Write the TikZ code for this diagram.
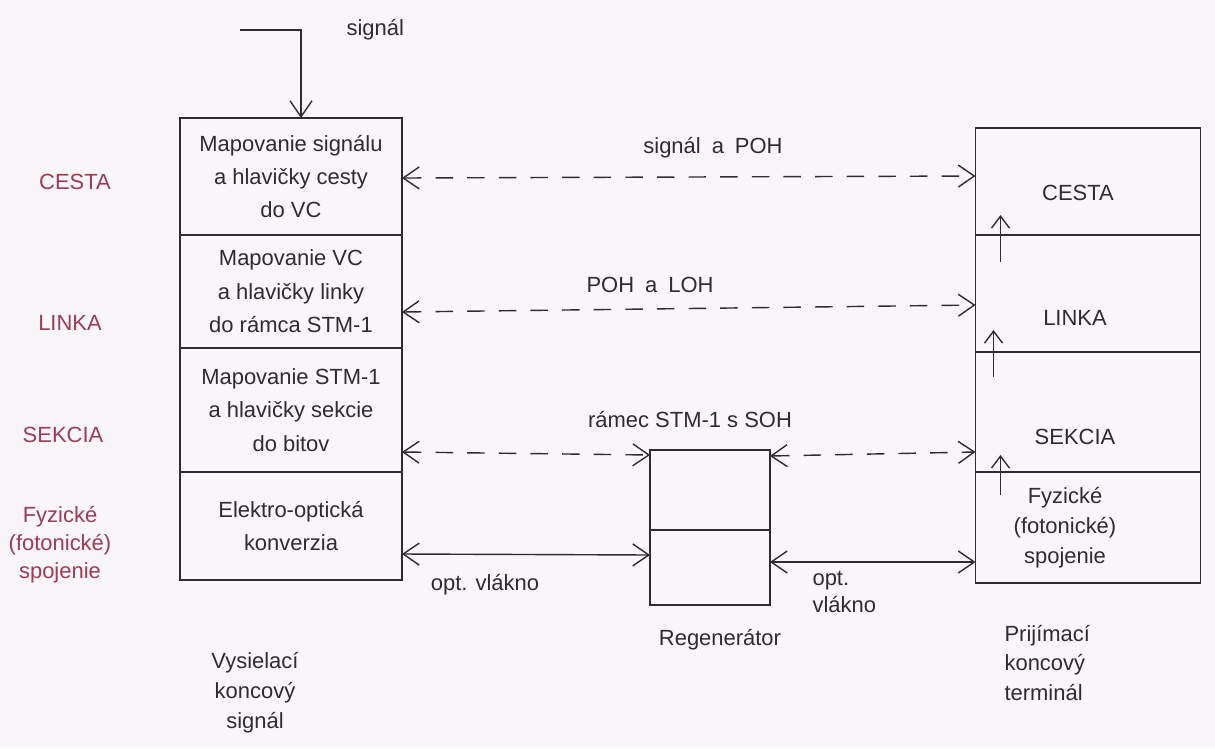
\documentclass[tikz,border=0pt]{standalone}
\usepackage{fontspec}
\setmainfont{Liberation Sans}
\usetikzlibrary{positioning,arrows.meta}
\definecolor{skink}{HTML}{2E2C30}
\definecolor{skred}{HTML}{A03A55}
\definecolor{skpaper}{HTML}{F8F6F8}
\tikzset{
  layer/.style={draw=skink,line width=0.8pt,outer sep=0pt,inner sep=0pt,align=center,
    minimum width=4.44cm,text=skink,font=\fontsize{12.5}{19}\selectfont},
  lbl/.style={text=skink,align=center,font=\fontsize{12.5}{17}\selectfont},
  redlbl/.style={text=skred,align=center,font=\fontsize{12.5}{16}\selectfont},
  dasharrow/.style={<->,draw=skink,dash pattern=on 10pt off 8pt},
  fibre/.style={<->,draw=skink},
  uparrow/.style={-{Straight Barb[length=2.4mm,width=3.6mm]},draw=skink}
}

\begin{document}
\begin{tikzpicture}[x=0.02cm,y=-0.02cm,line width=0.8pt,
    >={Straight Barb[length=3.2mm,width=4.4mm]}]
  \useasboundingbox[fill=skpaper] (0,0) rectangle (1215,748);
  % vysielaci terminal
  \node[layer,minimum height=2.34cm] (vc) at (291,176.5) {Mapovanie signálu\\a hlavičky cesty\\do VC};
  \node[layer,minimum height=2.26cm,below=0pt of vc] (stm) {Mapovanie VC\\a hlavičky linky\\do rámca STM-1};
  \node[layer,minimum height=2.48cm,below=0pt of stm] (bity) {Mapovanie STM-1\\a hlavičky sekcie\\do bitov};
  \node[layer,minimum height=2.16cm,below=0pt of bity] (eo) {Elektro-optická\\konverzia};
  \node[lbl] (vyslbl) at (255,693) {Vysielací\\koncový\\signál};
  % vstup signalu
  \coordinate (sigin) at (240,30);
  \draw[->,skink] (sigin) -| ([xshift=0.2cm]vc.north);
  \node[lbl,anchor=west] (siglbl) at (340,30) {signál};
  % vrstvy vlavo
  \node[redlbl] (lcesta) at (75,182) {CESTA};
  \node[redlbl] (llinka) at (70,323) {LINKA};
  \node[redlbl] (lsekcia) at (63,435) {SEKCIA};
  \node[redlbl] (lfyz) at (60,545) {Fyzické\\(fotonické)\\spojenie};
  % regenerator
  \node[layer,minimum width=2.4cm,minimum height=1.6cm] (rgtop) at (710,490) {};
  \node[layer,minimum width=2.4cm,minimum height=1.5cm,below=0pt of rgtop] (rgbot) {};
  \node[lbl] (rglbl) at (720,640) {Regenerátor};
  % prijimaci terminal
  \node[layer,minimum width=4.5cm,minimum height=2.14cm] (rc) at (1088,181.5) {};
  \node[layer,minimum width=4.5cm,minimum height=2.34cm,below=0pt of rc] (rl) {};
  \node[layer,minimum width=4.5cm,minimum height=2.4cm,below=0pt of rl] (rs) {};
  \node[layer,minimum width=4.5cm,minimum height=2.22cm,below=0pt of rs] (rf) {};
  \node[lbl] (rcesta) at (1078,193) {CESTA};
  \node[lbl] (rlinka) at (1075,318) {LINKA};
  \node[lbl] (rsekcia) at (1075,437) {SEKCIA};
  \node[lbl] (rfyz) at (1065,528) {Fyzické\\(fotonické)\\spojenie};
  \node[lbl,align=left,anchor=west] (prijlbl) at (998,663) {Prijímací\\koncový\\terminál};
  \draw[uparrow] ([xshift=0.5cm,yshift=-0.54cm]rl.north west) -- ([xshift=0.5cm,yshift=0.4cm]rl.north west);
  \draw[uparrow] ([xshift=0.36cm,yshift=-0.5cm]rs.north west) -- ([xshift=0.36cm,yshift=0.44cm]rs.north west);
  \draw[uparrow] ([xshift=0.5cm,yshift=-0.46cm]rf.north west) -- ([xshift=0.5cm,yshift=0.34cm]rf.north west);
  % spojenia
  \draw[dasharrow] (vc.east |- 0,178) -- (rc.west |- 0,176);
  \node[lbl] (poh) at (713,148) {signál\enspace a\enspace POH};
  \draw[dasharrow] (stm.east |- 0,312) -- (rl.west |- 0,305);
  \node[lbl] (pohloh) at (650,285) {POH\enspace a\enspace LOH};
  \draw[dasharrow] (bity.east |- 0,452) -- (rgtop.west |- 0,455);
  \draw[dasharrow] (rgtop.east |- 0,456) -- (rs.west |- 0,452);
  \node[lbl] (soh) at (690,420) {rámec STM-1 s SOH};
  \draw[fibre] (eo.east |- 0,554) -- (rgbot.west |- 0,555);
  \draw[fibre] (rgbot.east |- 0,562) -- (rf.west |- 0,562);
  \node[lbl] (vl1) at (485,585) {opt. vlákno};
  \node[lbl,align=left,anchor=west,font=\fontsize{12.5}{15}\selectfont] (vl2) at (806,592) {opt.\\vlákno};
\end{tikzpicture}
\end{document}
